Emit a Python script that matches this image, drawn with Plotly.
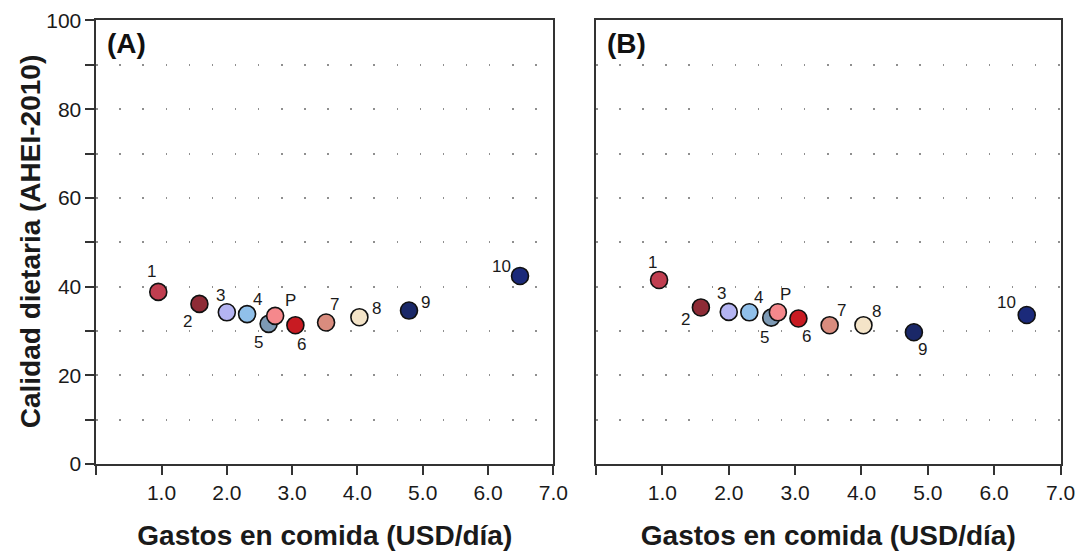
import plotly.graph_objects as go

# Group labels, food expenditure and diet quality scores
labels = ["1", "2", "3", "4", "5", "6", "7", "8", "9", "10", "P"]
gasto_usd_dia = [0.95, 1.58, 2.00, 2.31, 2.64, 3.05, 3.52, 4.03, 4.79, 6.49, 2.74]
ahei_a = [38.8, 36.1, 34.2, 33.8, 31.6, 31.3, 31.9, 33.1, 34.6, 42.4, 33.4]
ahei_b = [41.5, 35.3, 34.3, 34.2, 33.0, 32.8, 31.3, 31.3, 29.7, 33.6, 34.2]

x_tick_vals = [0, 1, 2, 3, 4, 5, 6, 7]
x_tick_text = ["", "1.0", "2.0", "3.0", "4.0", "5.0", "6.0", "7.0"]
y_tick_vals = [0, 10, 20, 30, 40, 50, 60, 70, 80, 90, 100]
y_tick_text = ["0", "", "20", "", "40", "", "60", "", "80", "", "100"]

# Marker fill per group
colors = ["#C03E50", "#8E2B36", "#B4B4F2", "#90C0EA", "#7D9AB5", "#C81B22",
          "#D98C7E", "#F4E4C8", "#1A2868", "#1B2A7A", "#F5888C"]

# Label offsets in pixels (dx right, dy down) for each panel
offs_a = [(-7, -20), (-12, 18), (-6, -17), (10, -15), (-10, 19), (6, 19),
          (8, -18), (17, -9), (16, -8), (-19, -9), (15, -15)]
offs_b = [(-7, -17), (-15, 12), (-7, -18), (9, -15), (-7, 20), (8, 18),
          (12, -15), (13, -14), (9, 17), (-20, -12), (8, -18)]

FONT = "Liberation Sans, Arial, sans-serif"
AXIS_COLOR = "#333333"
TEXT_COLOR = "#1a1a1a"

fig = go.Figure()

panels = [
    ("x", "y", ahei_a, offs_a),
    ("x2", "y2", ahei_b, offs_b),
]

for xa, ya, vals, offs in panels:
    fig.add_trace(go.Scatter(
        x=gasto_usd_dia, y=vals, mode="markers", xaxis=xa, yaxis=ya,
        marker=dict(size=17, color=colors, line=dict(color="#111111", width=1.6)),
        showlegend=False, hoverinfo="skip",
    ))
    for lab, xv, yv, (dx, dy) in zip(labels, gasto_usd_dia, vals, offs):
        fig.add_annotation(
            x=xv, y=yv, xref=xa, yref=ya, text=lab, showarrow=False,
            xshift=dx, yshift=-dy,
            font=dict(family=FONT, size=17, color=TEXT_COLOR),
        )

common_x = dict(
    range=[0, 7], tickvals=x_tick_vals, ticktext=x_tick_text,
    ticks="outside", ticklen=9, tickwidth=1.5, tickcolor=AXIS_COLOR,
    showline=True, linecolor=AXIS_COLOR, linewidth=1.5, mirror=True,
    showgrid=False, zeroline=False, automargin=False,
    tickfont=dict(family=FONT, size=21, color=TEXT_COLOR),
    title=dict(text="<b>Gastos en comida (USD/día)</b>", standoff=22,
               font=dict(family=FONT, size=28, color=TEXT_COLOR)),
)
common_y = dict(
    range=[0, 100], tickvals=y_tick_vals, ticktext=y_tick_text,
    showline=True, linecolor=AXIS_COLOR, linewidth=1.5, mirror=True,
    showgrid=True, gridcolor="#8f8f8f", gridwidth=1.5, griddash="1.5px,21.6px",
    zeroline=False, automargin=False,
    tickfont=dict(family=FONT, size=21, color=TEXT_COLOR),
)

fig.update_layout(
    width=1079, height=552,
    margin=dict(l=0, r=0, t=0, b=0),
    paper_bgcolor="white", plot_bgcolor="white",
    xaxis=dict(domain=[0.0892, 0.5128], anchor="y", **common_x),
    xaxis2=dict(domain=[0.5524, 0.9829], anchor="y2", **common_x),
    yaxis=dict(domain=[0.1594, 0.9629], anchor="x",
               ticks="outside", ticklen=9, tickwidth=1.5, tickcolor=AXIS_COLOR,
               **common_y),
    yaxis2=dict(domain=[0.1594, 0.9629], anchor="x2", ticks="",
                showticklabels=False, **common_y),
)

# Vertical title shared by the left panel
fig.add_annotation(
    x=30 / 1079, y=0.5, xref="paper", yref="y domain",
    xanchor="center", yanchor="middle", textangle=-90,
    text="<b>Calidad dietaria (AHEI-2010)</b>", showarrow=False,
    font=dict(family=FONT, size=28, color=TEXT_COLOR),
)

for xa, ya, text in [("x", "y", "(A)"), ("x2", "y2", "(B)")]:
    fig.add_annotation(
        x=0, y=1, xref=f"{xa} domain", yref=f"{ya} domain",
        xanchor="left", yanchor="top", xshift=9, yshift=-6,
        text=f"<b>{text}</b>", showarrow=False,
        font=dict(family=FONT, size=28, color="#111111"),
    )

fig.write_html("out.html")
